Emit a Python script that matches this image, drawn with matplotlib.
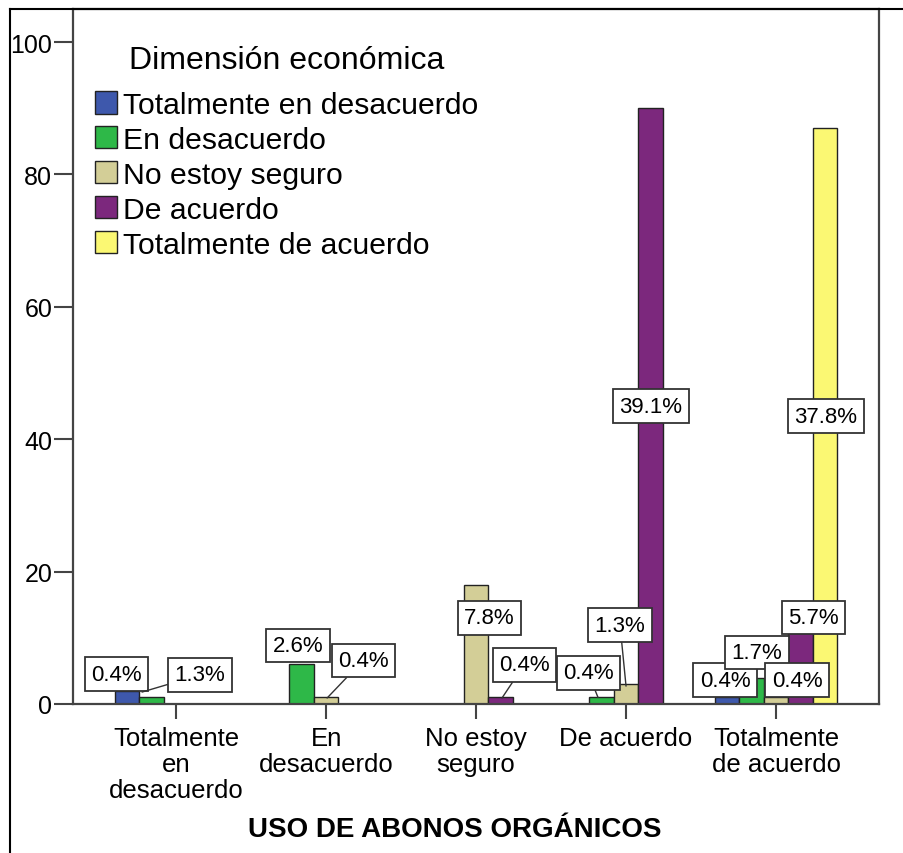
import numpy as np
import matplotlib
matplotlib.use("Agg")
import matplotlib.pyplot as plt
from matplotlib.lines import Line2D

plt.rcParams['font.family'] = ['Liberation Sans', 'DejaVu Sans']

# categorias del eje x (USO DE ABONOS ORGANICOS)
categorias = ["Totalmente\nen\ndesacuerdo", "En\ndesacuerdo", "No estoy\nseguro",
              "De acuerdo", "Totalmente\nde acuerdo"]

# series (Dimension economica), recuentos por categoria
series = ["Totalmente en desacuerdo", "En desacuerdo", "No estoy seguro",
          "De acuerdo", "Totalmente de acuerdo"]
tot_desacuerdo = [2, 0, 0, 0, 1]
en_desacuerdo = [1, 6, 0, 1, 4]
no_seguro = [0, 1, 18, 3, 1]
de_acuerdo = [0, 0, 1, 90, 13]
tot_acuerdo = [0, 0, 0, 0, 87]
colores = ["#3E58AC", "#2EB848", "#D3CE97", "#7C287D", "#FBF873"]

# etiquetas de porcentaje: texto, posicion del cuadro, punto de la linea guia (o None)
etiquetas = [
    ("0.4%", -0.40, 4.5, None),
    ("1.3%", 0.16, 4.4, (-0.227, 1.8)),
    ("2.6%", 0.813, 8.8, None),
    ("0.4%", 1.247, 6.6, (1.007, 0.9)),
    ("7.8%", 2.087, 13.0, None),
    ("0.4%", 2.32, 5.9, (2.173, 0.9)),
    ("0.4%", 2.747, 4.7, (2.813, 1.0)),
    ("1.3%", 2.96, 11.9, (3.0, 2.7)),
    ("39.1%", 3.167, 45.0, None),
    ("0.4%", 3.66, 3.6, None),
    ("1.7%", 3.873, 7.8, None),
    ("0.4%", 4.14, 3.6, None),
    ("5.7%", 4.247, 13.1, None),
    ("37.8%", 4.333, 43.5, None),
]

fig = plt.figure(figsize=(9.04, 8.54), dpi=100)
ax = fig.add_axes([0.0808, 0.1745, 0.8916, 0.8138])

datos = [tot_desacuerdo, en_desacuerdo, no_seguro, de_acuerdo, tot_acuerdo]
x = np.arange(len(categorias))
w = 0.1633
for i, (nombre, vals) in enumerate(zip(series, datos)):
    ax.bar(x + (i - 2) * w, vals, width=w, color=colores[i], edgecolor="#222222",
           linewidth=1.0, label=nombre, zorder=2)

for txt, xt, yt, guia in etiquetas:
    caja = dict(boxstyle="square,pad=0.28", fc="white", ec="#333333", lw=1.3)
    if guia is None:
        ax.text(xt, yt, txt, ha="center", va="center", fontsize=16, bbox=caja, zorder=5)
    else:
        ax.annotate(txt, xy=guia, xytext=(xt, yt), ha="center", va="center",
                    fontsize=16, bbox=caja, zorder=5,
                    arrowprops=dict(arrowstyle="-", color="#333333", lw=1.0,
                                    shrinkA=0, shrinkB=0))

ax.set_xlim(-0.687, 4.687)
ax.set_ylim(0, 105)
ax.set_yticks([0, 20, 40, 60, 80, 100])
ax.set_xticks(x)
ax.set_xticklabels(categorias, linespacing=1.1)
ax.tick_params(axis="y", direction="out", length=14, width=1.5, color="#444444",
               labelsize=18, pad=1)
ax.tick_params(axis="x", direction="out", length=11, width=1.5, color="#444444",
               labelsize=18.5, pad=5)
for s in ax.spines.values():
    s.set_color("#444444")
    s.set_linewidth(1.6)

ax.set_xlabel("USO DE ABONOS ORGÁNICOS", fontsize=20, fontweight="bold")
ax.xaxis.set_label_coords(0.474, -0.18)
ax.xaxis.label.set_verticalalignment("center")

leg = ax.legend(loc="upper left", bbox_to_anchor=(0.027, 0.882), frameon=False,
                fontsize=21.7, handlelength=0.75, handleheight=0.75,
                handletextpad=0.2, labelspacing=0.23, borderpad=0,
                borderaxespad=0)
fig.text(287 / 904, 1 - 61 / 854, "Dimensión económica", fontsize=23,
         ha="center", va="center")

# marco exterior de la imagen
fig.add_artist(Line2D([10 / 904, 10 / 904], [0, 1 - 10 / 854], color="black", lw=1.5))
fig.add_artist(Line2D([10 / 904, 1], [1 - 10 / 854, 1 - 10 / 854], color="black", lw=1.5))

fig.savefig("out.png", dpi=100, facecolor="white")
